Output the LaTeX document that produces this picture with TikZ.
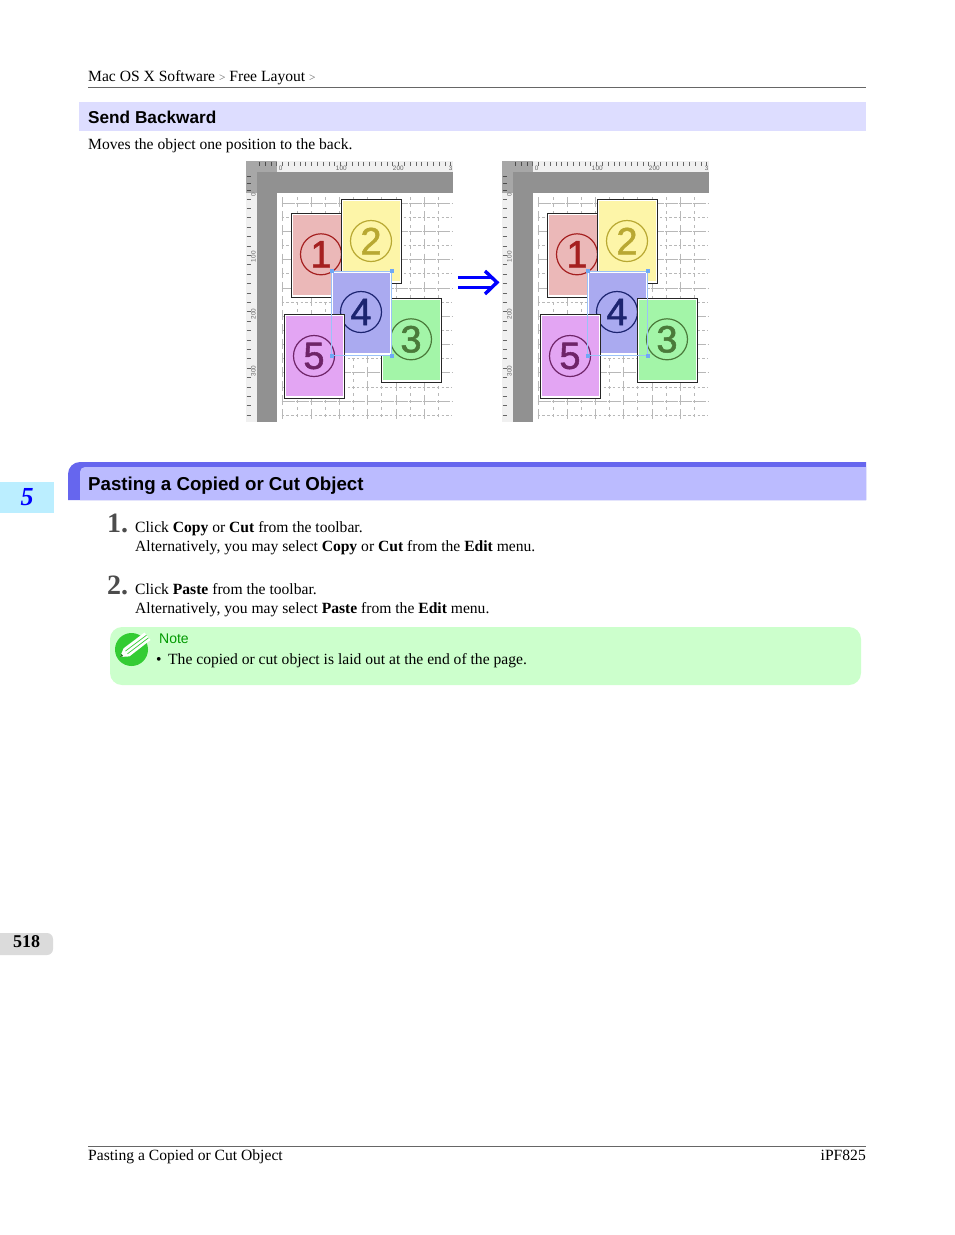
\documentclass[tikz,border=0pt]{standalone}
\usepackage{fontspec}
\setmainfont{Liberation Serif}
\setsansfont{Liberation Sans}
\newfontfamily\digitfont[FakeBold=1.4]{Liberation Sans}
\usetikzlibrary{arrows.meta,positioning}
\definecolor{headA}{HTML}{DDDDFF}
\definecolor{headB}{HTML}{BBBBFF}
\definecolor{headC}{HTML}{6666EE}
\definecolor{noteG}{HTML}{CCFFCC}
\definecolor{tabB}{HTML}{BBEEFF}
\definecolor{bandG}{HTML}{919191}
\definecolor{selB}{HTML}{6FA8F5}
\definecolor{paperA}{HTML}{EBB8B8}
\definecolor{paperB}{HTML}{FDF5A8}
\definecolor{paperC}{HTML}{A3F5A8}
\definecolor{paperD}{HTML}{AAAAF0}
\definecolor{paperE}{HTML}{E3A5F3}
\definecolor{inkA}{HTML}{A52020}
\definecolor{inkB}{HTML}{B8A832}
\definecolor{inkC}{HTML}{4A7A3A}
\definecolor{inkD}{HTML}{1C2470}
\definecolor{inkE}{HTML}{6E2468}
\definecolor{penG}{HTML}{33CC33}
\tikzset{
 body/.style={inner sep=0pt,anchor=base west,font=\fontsize{15.6}{15.6}\selectfont},
 heading/.style={inner sep=0pt,anchor=base west,font=\sffamily\bfseries\fontsize{17.2}{17.2}\selectfont},
 stepnum/.style={inner sep=0pt,anchor=base west,text=black!70,font=\bfseries\fontsize{28}{28}\selectfont},
 sheet/.style={draw=black!85,line width=0.9pt,minimum width=60pt,minimum height=84.5pt,inner sep=0pt,outer sep=0pt},
 num/.style={circle,draw,line width=1.2pt,minimum size=41pt,inner sep=0pt,font=\digitfont\fontsize{38}{38}\selectfont},
 handle/.style={fill=selB,inner sep=0pt,minimum size=4.2pt},
 ticklab/.style={inner sep=0pt,text=black!60,font=\sffamily\fontsize{6.4}{6.4}\selectfont},
}
\newcommand{\pagesheet}[8]{% name, x, y, paper, num x, num y, ink, digit
 \node[sheet,fill=white,anchor=north west] (#1) at (#2,#3) {};
 \fill[#4] (#2+1.5,#3+1.5) rectangle (#2+58.3,#3+81.3);
 \node[num,draw=#7,text=#7] (#1n) at (#5,#6) {#8};
}
\newcommand{\pageone}{\pagesheet{pA}{46}{52.3}{paperA}{75.3}{93.3}{inkA}{1}}
\newcommand{\pagetwo}{\pagesheet{pB}{95.6}{38.3}{paperB}{125.3}{80}{inkB}{2}}
\newcommand{\pagethree}{\pagesheet{pC}{135.6}{137.3}{paperC}{165.3}{178.3}{inkC}{3}}
\newcommand{\pagefour}{\pagesheet{pD}{86}{110.3}{paperD}{115.3}{151}{inkD}{4}}
\newcommand{\pagefive}{\pagesheet{pE}{38.6}{153.3}{paperE}{68.3}{195}{inkE}{5}}
\newcommand{\panelbase}{%
 \fill[black!6] (0,0) rectangle (207,11);
 \fill[black!6] (0,32) rectangle (11,261);
 \fill[bandG!80] (0,0) rectangle (31,11);
 \fill[bandG!80] (0,11) rectangle (11,32);
 \fill[bandG] (11,11) rectangle (207,32);
 \fill[bandG] (11,11) rectangle (31,261);
 % grid
 \foreach \gy in {42,70.3,...,258} \draw[black!28,line width=.7pt,dash pattern=on 13pt off 1.15pt] (36,\gy) -- (206,\gy);
 \foreach \gy in {56.15,84.45,...,258} \draw[black!28,line width=.7pt,dash pattern=on 2.5pt off 2.2pt] (36,\gy) -- (206,\gy);
 \foreach \gx in {37,65.3,...,205} \draw[black!28,line width=.7pt,dash pattern=on 10pt off 4.15pt] (\gx,36) -- (\gx,258);
 \foreach \gx in {51.15,79.45,...,205} \draw[black!28,line width=.7pt,dash pattern=on 3pt off 4pt] (\gx,36) -- (\gx,258);
 % rulers
 \foreach \tx in {14,19.8,25.6} \draw[black!70,line width=.8pt] (\tx,.7) -- (\tx,4.7);
 \foreach \tx in {31,36.8,...,207} \draw[black!60,line width=.7pt] (\tx,.7) -- (\tx,4.7);
 \foreach \ty in {15,22,29} \draw[black!70,line width=.8pt] (1,\ty) -- (5,\ty);
 \foreach \ty in {38,47.4,...,260} \draw[black!60,line width=.8pt] (1,\ty) -- (5,\ty);
 \foreach \tx/\tl in {35/0,95.6/100,152.6/200,205/3} \node[ticklab] (r\tl) at (\tx,6.9) {\tl};
 \foreach \ty/\tl in {34/0,95.7/100,153/200,210/300} \node[ticklab,rotate=90] (s\tl) at (7.6,\ty) {\tl};
}
\newcommand{\selbox}{%
 \draw[selB!70,line width=.7pt] (pD.north west) rectangle (pD.south east);
 \foreach \hc/\hn in {north west/a,north east/b,south west/c,south east/d} \node[handle] (hd\hn) at (pD.\hc) {};
}
\begin{document}
\begin{tikzpicture}[x=1pt,y=-1pt]
\useasboundingbox (0,0) rectangle (954,1235);
\fill[white] (0,0) rectangle (954,1235);
% page header
\node[body] (crumb) at (88,81) {Mac OS X Software {\color{black!60}\fontsize{11.5}{11.5}\selectfont>} Free Layout {\color{black!60}\fontsize{11.5}{11.5}\selectfont>}};
\draw[black!60,line width=.7pt] (88,87.5) -- (866,87.5);
% first heading
\fill[headA] (79,102) rectangle (866,131);
\node[heading] (h1) at (88,123) {Send Backward};
\node[body] (t1) at (88,149) {Moves the object one position to the back.};
% left and right screens
\begin{scope}[shift={(245.7,161)}]
\panelbase
\pageone \pagetwo \pagethree \pagefour \pagefive
\selbox
\end{scope}
\begin{scope}[shift={(501.7,161)}]
\panelbase
\pageone \pagetwo \pagefour \pagethree \pagefive
\selbox
\end{scope}
% arrow between them
\coordinate (arrL) at (458,282.4);
\coordinate (arrR) at (493,282.4);
\coordinate (arrT) at (485,271);
\coordinate (arrP) at (497,282.4);
\coordinate (arrB) at (485,294);
\draw[blue,double=white,double distance=7pt,line width=3.4pt] (arrL) -- (arrR);
\draw[blue,line width=3.4pt,miter limit=4] (arrT) -- (arrP) -- (arrB);
% second heading
\fill[headC] (68,500) -- (68,474) arc (180:270:12) -- (866,462) -- (866,500) -- cycle;
\fill[headB] (80,500) -- (80,472) arc (180:270:5) -- (866,467) -- (866,500) -- cycle;
\node[heading,font=\sffamily\bfseries\fontsize{18.7}{18.7}\selectfont] (h2) at (88,490) {Pasting a Copied or Cut Object};
% side tab
\fill[tabB] (0,482) rectangle (54,513);
\node[inner sep=0pt,text=blue,font=\itshape\bfseries\fontsize{26}{26}\selectfont] (tab) at (27,497) {5};
% steps
\node[stepnum] (n1) at (107,532) {1.};
\node[body] (s1a) at (135,532) {Click \textbf{Copy} or \textbf{Cut} from the toolbar.};
\node[body] (s1b) at (135,551) {Alternatively, you may select \textbf{Copy} or \textbf{Cut} from the \textbf{Edit} menu.};
\node[stepnum] (n2) at (107,594) {2.};
\node[body] (s2a) at (135,594) {Click \textbf{Paste} from the toolbar.};
\node[body] (s2b) at (135,613) {Alternatively, you may select \textbf{Paste} from the \textbf{Edit} menu.};
% note box
\fill[noteG,rounded corners=12pt] (110,627) rectangle (861,685);
\node[circle,fill=penG,minimum size=33pt,inner sep=0pt] (pen) at (131.5,649.5) {};
\fill[white] (120,657) -- (123.6,648.3) -- (144.5,632.5) -- (150.5,640) -- (129.4,656.4) -- cycle;
\draw[penG,line width=.7pt] (125.5,651) -- (146.5,635.2);
\draw[penG,line width=.7pt] (127.5,653.8) -- (148.5,637.8);
\fill[penG!60!black] (120,657) -- (121.3,653.8) -- (123.4,656.2) -- cycle;
\node[body,text=green!60!black,font=\sffamily\fontsize{14}{14}\selectfont] (nt) at (159,643) {Note};
\node[body] (nb) at (156,664) {\textbullet};
\node[body] (nc) at (168,664) {The copied or cut object is laid out at the end of the page.};
% page number
\fill[black!14,rounded corners=6pt] (-10,933) rectangle (53,955);
\node[inner sep=0pt,font=\bfseries\fontsize{18}{18}\selectfont] (pg) at (26.7,942) {518};
% footer
\draw[black!60,line width=.7pt] (88,1146) -- (866,1146);
\node[body] (ftl) at (88,1160) {Pasting a Copied or Cut Object};
\node[body,anchor=base east] (ftr) at (866,1160) {iPF825};
\end{tikzpicture}
\end{document}
